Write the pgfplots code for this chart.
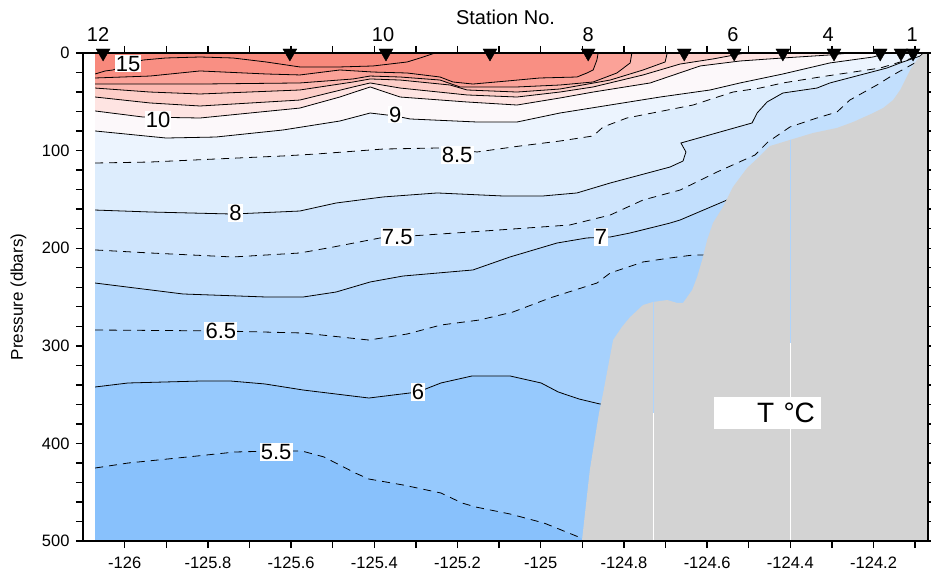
\documentclass[border=0pt]{standalone}
\usepackage{fontspec}
\setmainfont{Liberation Sans}
\usepackage{pgfplots}
\usepackage{pgfplotstable}
\pgfplotsset{compat=1.18}

\definecolor{cA}{RGB}{136,193,252}
\definecolor{cB}{RGB}{150,201,253}
\definecolor{cC}{RGB}{166,209,253}
\definecolor{cD}{RGB}{180,216,253}
\definecolor{cE}{RGB}{194,223,253}
\definecolor{cF}{RGB}{207,229,253}
\definecolor{cG}{RGB}{221,237,253}
\definecolor{cH}{RGB}{236,244,254}
\definecolor{cI}{RGB}{252,248,250}
\definecolor{cJ}{RGB}{254,228,226}
\definecolor{cK}{RGB}{253,206,200}
\definecolor{cL}{RGB}{252,184,176}
\definecolor{cM}{RGB}{251,162,152}
\definecolor{cN}{RGB}{249,143,131}
\definecolor{cO}{RGB}{248,137,124}
\definecolor{land}{RGB}{211,211,211}
\definecolor{streak}{RGB}{175,212,252}

% contour 15
\pgfplotstableread{
x y
-126.071 21.5
-126.047 18.4
-126.028 17.4
-125.992 11.3
-125.956 7.2
-125.901 5.1
-125.819 4.1
-125.740 5.1
-125.660 9.2
-125.579 14.3
-125.483 14.3
-125.403 13.3
-125.321 9.2
-125.290 5.1
-125.254 0
}\cFifteen
\pgfplotstableread{
x y
-126.071 25.6
-125.939 23.6
-125.819 18.4
-125.660 21.5
-125.579 22.5
-125.483 17.4
-125.403 19.5
-125.321 20.5
-125.242 24.6
-125.211 29.7
-125.163 31.8
-125.081 28.7
-125.002 25.6
-124.913 24.6
-124.889 20.5
-124.874 17.4
-124.865 7.2
-124.862 0
}\cFourteen
\pgfplotstableread{
x y
-126.071 31.8
-125.939 31.8
-125.819 31.8
-125.579 30.7
-125.451 26.6
-125.410 23.6
-125.338 24.6
-125.242 27.7
-125.194 34.8
-125.057 34.8
-124.954 32.8
-124.874 29.7
-124.817 20.5
-124.785 10.2
-124.781 0
}\cThirteen
\pgfplotstableread{
x y
-126.071 35.9
-125.939 40.0
-125.819 42.0
-125.579 37.9
-125.451 29.7
-125.410 26.6
-125.338 27.7
-125.218 32.8
-125.177 37.9
-125.057 40.0
-124.954 36.9
-124.833 27.7
-124.754 17.4
-124.701 9.2
-124.696 0
}\cTwelve
\pgfplotstableread{
x y
-126.071 45.1
-125.939 51.2
-125.819 54.3
-125.579 48.2
-125.451 34.8
-125.410 30.7
-125.338 35.9
-125.177 43.0
-125.057 45.1
-124.954 40.0
-124.874 34.8
-124.754 22.5
-124.665 11.3
-124.586 6.1
-124.509 0
}\cEleven
\pgfplotstableread{
x y
-126.071 59.4
-125.956 65.6
-125.819 66.6
-125.699 61.5
-125.579 56.4
-125.483 45.1
-125.410 34.8
-125.338 45.1
-125.177 50.2
-125.057 53.3
-124.954 46.1
-124.874 40.0
-124.737 30.7
-124.617 13.3
-124.521 8.2
-124.418 5.1
-124.305 2.0
-124.257 0
}\cTen
\pgfplotstableread{
x y
-126.071 79.9
-125.901 87.1
-125.781 86.1
-125.620 78.9
-125.483 69.7
-125.410 61.5
-125.350 64.5
-125.314 67.6
-125.153 70.7
-125.057 70.7
-124.954 61.5
-124.713 45.1
-124.593 37.9
-124.521 30.7
-124.418 21.5
-124.305 10.2
-124.201 4.1
-124.168 0
}\cNine
\pgfplotstableread{
x y
-126.071 112.7
-125.939 111.7
-125.781 108.6
-125.620 105.5
-125.540 103.5
-125.379 98.4
-125.242 97.3
-125.153 101.4
-125.050 95.3
-124.954 90.2
-124.874 85.0
-124.850 75.8
-124.793 66.6
-124.634 53.3
-124.538 40.0
-124.473 35.9
-124.418 30.7
-124.329 24.6
-124.184 15.4
-124.136 9.2
-124.084 2.0
-124.076 0
}\cEightHalf
\pgfplotstableread{
x y
-126.071 160.9
-125.939 162.9
-125.740 165.0
-125.579 161.9
-125.492 153.7
-125.379 147.5
-125.249 143.4
-125.091 146.5
-124.995 146.5
-124.913 143.4
-124.833 133.2
-124.689 116.8
-124.658 110.7
-124.651 101.4
-124.663 92.2
-124.492 71.7
-124.480 61.5
-124.456 50.2
-124.418 41.0
-124.336 35.9
-124.305 30.7
-124.168 15.4
-124.136 10.2
-124.088 3.1
-124.079 0
}\cEight
\pgfplotstableread{
x y
-126.071 201.8
-125.939 204.9
-125.740 209.0
-125.579 204.9
-125.499 198.8
-125.386 189.5
-125.278 186.5
-125.170 183.4
-124.930 176.2
-124.833 166.0
-124.754 150.6
-124.665 140.4
-124.576 121.9
-124.485 104.5
-124.454 91.2
-124.401 75.8
-124.336 66.6
-124.288 60.5
-124.257 48.2
-124.192 32.8
-124.153 22.5
-124.088 7.2
-124.074 0
}\cSevenHalf
\pgfplotstableread{
x y
-126.071 235.7
-125.860 246.9
-125.660 250.0
-125.571 250.0
-125.492 244.9
-125.410 234.6
-125.331 228.5
-125.163 222.3
-125.074 209.0
-124.961 194.7
-124.889 189.5
-124.833 188.5
-124.785 184.4
-124.689 174.2
-124.665 171.1
-124.552 150.6
-124.069 150.6
}\cSeven
\pgfplotstableread{
x y
-126.071 283.8
-125.766 284.8
-125.571 286.9
-125.413 294.1
-125.321 287.9
-125.240 278.7
-125.148 273.6
-125.067 265.4
-124.978 251.0
-124.865 235.7
-124.833 225.4
-124.754 214.1
-124.689 210.0
-124.634 207.0
-124.605 207.0
-124.069 207.0
}\cSixHalf
\pgfplotstableread{
x y
-126.071 342.2
-125.992 338.1
-125.819 336.1
-125.745 336.1
-125.663 339.1
-125.571 345.3
-125.413 353.5
-125.295 347.3
-125.240 338.1
-125.165 330.9
-125.074 330.9
-124.999 338.1
-124.958 347.3
-124.908 354.5
-124.858 359.6
-124.850 359.6
-124.069 359.6
}\cSix
\pgfplotstableread{
x y
-126.071 425.2
-125.992 420.1
-125.826 412.9
-125.735 408.8
-125.639 407.8
-125.574 407.8
-125.521 413.9
-125.446 430.3
-125.413 436.5
-125.331 442.6
-125.240 450.8
-125.189 461.1
-125.156 465.2
-125.074 472.3
-124.992 481.6
-124.903 496.9
-124.896 500
-124.069 500
}\cFiveHalf
% bathymetry
\pgfplotstableread{
x y
-124.901 500
-124.882 427.3
-124.860 368.9
-124.850 348.4
-124.841 327.9
-124.826 294.1
-124.805 280.7
-124.785 270.5
-124.754 258.2
-124.730 255.1
-124.696 253.1
-124.672 256.1
-124.658 256.1
-124.636 242.8
-124.624 229.5
-124.612 212.1
-124.600 191.6
-124.586 174.2
-124.562 157.8
-124.538 137.3
-124.504 117.8
-124.478 107.6
-124.449 95.3
-124.401 89.1
-124.346 82.0
-124.288 76.8
-124.249 70.7
-124.201 61.5
-124.177 56.4
-124.153 48.2
-124.136 37.9
-124.112 17.4
-124.096 7.2
-124.084 2.0
-124.079 0
-124.069 0
-124.069 500
}\bathy
% station positions
\pgfplotstableread{
x y
-126.052 0
-125.603 0
-125.372 0
-125.122 0
-124.886 0
-124.655 0
-124.535 0
-124.418 0
-124.295 0
-124.184 0
-124.134 0
-124.105 0
}\stations

\tikzset{
  clab/.style={fill=white, inner xsep=1.2pt, inner ysep=1pt, text height=15.8pt, text depth=0pt, font=\fontsize{22}{22}\selectfont},
  stlab/.style={anchor=base, yshift=11pt, font=\fontsize{20}{20}\selectfont},
  solidc/.style={black, line width=0.8pt},
  dashc/.style={black, line width=0.8pt, dash pattern=on 8pt off 6pt},
}

\begin{document}
\begin{tikzpicture}
\path[use as bounding box] (-83pt,-39pt) rectangle (848pt,541pt);
\begin{axis}[
  at={(0pt,0pt)}, anchor=south west,
  width=845pt, height=488pt, scale only axis,
  xmin=-126.1003, xmax=-124.0691,
  ymin=0, ymax=500, y dir=reverse,
  xtick={-126,-125.8,-125.6,-125.4,-125.2,-125,-124.8,-124.6,-124.4,-124.2},
  minor xtick={-125.9,-125.7,-125.5,-125.3,-125.1,-124.9,-124.7,-124.5,-124.3,-124.1},
  ytick={0,100,200,300,400,500},
  minor y tick num=4,
  tick align=outside,
  major tick length=7pt, minor tick length=7pt,
  tick style={black, line width=1.4pt},
  axis line style={line width=2.2pt},
  tick label style={font=\fontsize{16.5}{18}\selectfont},
  xticklabel style={yshift=-5pt},
  yticklabel style={xshift=-3pt},
  /pgf/number format/assume math mode=true,
  clip=false, axis on top,
]
% filled temperature bands (coldest first)
\addplot[fill=cA, draw=none] coordinates {(-126.071,500) (-124.069,500)} \closedcycle;
\addplot[fill=cB, draw=none] table {\cFiveHalf} \closedcycle;
\addplot[fill=cC, draw=none] table {\cSix} \closedcycle;
\addplot[fill=cD, draw=none] table {\cSixHalf} \closedcycle;
\addplot[fill=cE, draw=none] table {\cSeven} \closedcycle;
\addplot[fill=cF, draw=none] table {\cSevenHalf} \closedcycle;
\addplot[fill=cG, draw=none] table {\cEight} \closedcycle;
\addplot[fill=cH, draw=none] table {\cEightHalf} \closedcycle;
\addplot[fill=cI, draw=none] table {\cNine} \closedcycle;
\addplot[fill=cJ, draw=none] table {\cTen} \closedcycle;
\addplot[fill=cK, draw=none] table {\cEleven} \closedcycle;
\addplot[fill=cL, draw=none] table {\cTwelve} \closedcycle;
\addplot[fill=cM, draw=none] table {\cThirteen} \closedcycle;
\addplot[fill=cN, draw=none] table {\cFourteen} \closedcycle;
\addplot[fill=cO, draw=none] table {\cFifteen} \closedcycle;
% contour lines
\addplot[solidc] table {\cFifteen};
\addplot[solidc] table {\cFourteen};
\addplot[solidc] table {\cThirteen};
\addplot[solidc] table {\cTwelve};
\addplot[solidc] table {\cEleven};
\addplot[solidc] table {\cTen};
\addplot[solidc] table {\cNine};
\addplot[dashc] table {\cEightHalf};
\addplot[solidc] table {\cEight};
\addplot[dashc] table {\cSevenHalf};
\addplot[solidc] table {\cSeven};
\addplot[dashc] table {\cSixHalf};
\addplot[solidc] table {\cSix};
\addplot[dashc] table {\cFiveHalf};
% bottom topography
\addplot[fill=land, draw=none] table {\bathy} -- cycle;
\addplot[streak, line width=0.8pt] coordinates {(-124.730,255.1) (-124.730,368.9)};
\addplot[white, line width=0.8pt] coordinates {(-124.730,368.9) (-124.730,500)};
\addplot[streak, line width=0.8pt] coordinates {(-124.401,89.1) (-124.401,297.1)};
\addplot[white, line width=0.8pt] coordinates {(-124.401,297.1) (-124.401,500)};
% contour labels
\node[clab] at (axis cs:-125.992,10.8) {15};
\node[clab] at (axis cs:-125.920,68.6) {10};
\node[clab] at (axis cs:-125.350,63.0) {9};
\node[clab] at (axis cs:-125.201,104.5) {8.5};
\node[clab] at (axis cs:-125.734,163.9) {8};
\node[clab] at (axis cs:-125.345,188.5) {7.5};
\node[clab] at (axis cs:-124.855,188.5) {7};
\node[clab] at (axis cs:-125.769,284.8) {6.5};
\node[clab] at (axis cs:-125.295,347.3) {6};
\node[clab] at (axis cs:-125.636,408.8) {5.5};
% T label
\node[fill=white, inner xsep=6pt, inner ysep=0pt, minimum height=32pt, text width=95pt, align=right, font=\fontsize{28}{28}\selectfont] at (axis cs:-124.455,368.9) {T °C};
% stations
\addplot[only marks, mark=triangle*, mark size=8pt, mark options={rotate=180, fill=black, draw=black}] table {\stations};
\node[stlab] at (axis cs:-126.064,0) {12};
\node[stlab] at (axis cs:-125.379,0) {10};
\node[stlab] at (axis cs:-124.886,0) {8};
\node[stlab] at (axis cs:-124.538,0) {6};
\node[stlab] at (axis cs:-124.309,0) {4};
\node[stlab] at (axis cs:-124.107,0) {1};
\node[anchor=base, yshift=28pt, font=\fontsize{20}{20}\selectfont] at (axis description cs:0.5,1) {Station No.};
\node[xshift=-64.5pt, rotate=90, font=\fontsize{17}{17}\selectfont] at (axis description cs:0,0.5) {Pressure (dbars)};
\draw[line width=2.2pt] (axis description cs:0,0) rectangle (axis description cs:1,1);
\end{axis}
\end{tikzpicture}
\end{document}
